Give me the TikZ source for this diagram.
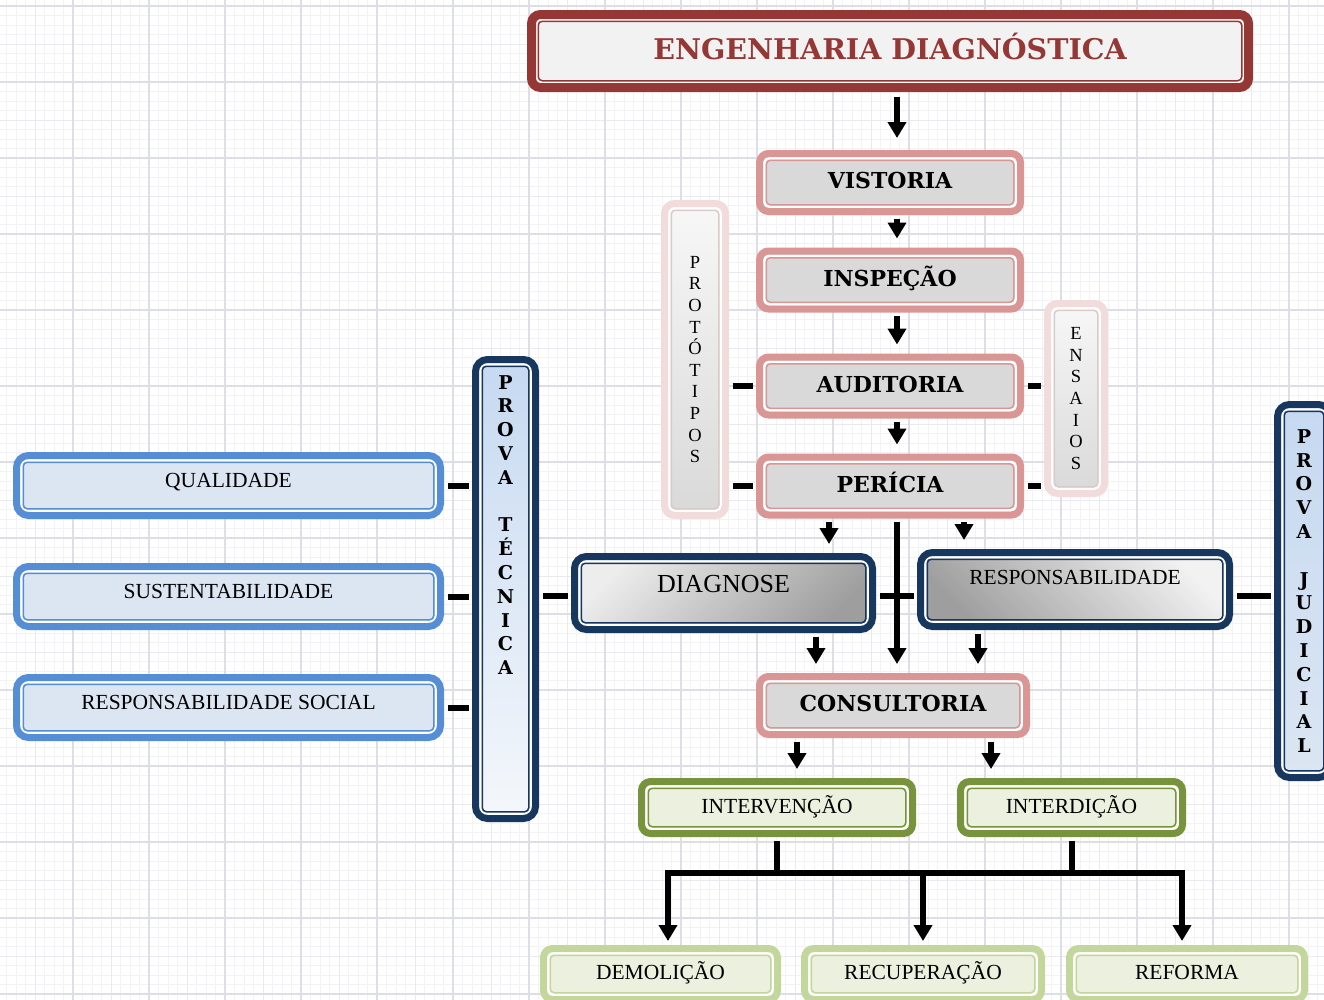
\documentclass[tikz,border=0pt]{standalone}
\usepackage{fontspec}
\setmainfont{Liberation Serif}
\newfontfamily\negrito{DejaVu Serif}
\usetikzlibrary{arrows.meta}

\definecolor{vermelho}{HTML}{953735}
\definecolor{rosa}{HTML}{D99694}
\definecolor{rosaclaro}{HTML}{F2DCDB}
\definecolor{linhacinza}{HTML}{DCCACA}
\definecolor{cinza}{HTML}{D9D9D9}
\definecolor{cinzaclaro}{HTML}{F2F2F2}
\definecolor{azul}{HTML}{558ED5}
\definecolor{azulfill}{HTML}{DCE6F2}
\definecolor{azulcol}{HTML}{C6D9F1}
\definecolor{marinho}{HTML}{17375E}
\definecolor{verde}{HTML}{77933C}
\definecolor{verdeclaro}{HTML}{C3D69B}
\definecolor{verdefill}{HTML}{EBF1DE}
\definecolor{gridfino}{HTML}{F3F3F7}
\definecolor{gridmedio}{HTML}{E9E9EF}
\definecolor{gridgrosso}{HTML}{DEDEE7}

\tikzset{
  moldura/.style 2 args={rectangle, rounded corners=9pt, line width=7pt, inner sep=0pt, align=center, draw=#1,
    path picture={
      \draw[white, line width=2.5pt, rounded corners=5pt]
        ([shift={(4.75pt,-4.75pt)}]path picture bounding box.north west) rectangle
        ([shift={(-4.75pt,4.75pt)}]path picture bounding box.south east);
      \draw[#2, line width=1.5pt, rounded corners=4pt]
        ([shift={(6.75pt,-6.75pt)}]path picture bounding box.north west) rectangle
        ([shift={(-6.75pt,6.75pt)}]path picture bounding box.south east);
    }},
  texto/.style={font=\fontsize{21.5}{24}\selectfont, text height=14pt, text depth=10pt},
  negr/.style={font=\negrito\bfseries\fontsize{22}{25}\selectfont, text height=16pt, text depth=4pt},
  letras/.style={inner sep=0pt, align=center, font=\negrito\bfseries\fontsize{19}{23.8}\selectfont},
  titulo/.style={moldura={vermelho}{vermelho}, line width=9pt, fill=cinzaclaro, text=vermelho,
    font=\negrito\bfseries\fontsize{28.5}{32}\selectfont, text height=21pt, text depth=4pt,
    minimum width=717pt, minimum height=73pt},
  caixarosa/.style={moldura={rosa}{rosa}, fill=cinza, negr, minimum width=261pt, minimum height=58pt},
  colunarosa/.style={moldura={rosaclaro}{linhacinza}, rounded corners=10pt, top color=white!97!black,
    bottom color=cinza, font=\fontsize{18.5}{21.6}\selectfont},
  colunaazul/.style={moldura={marinho}{marinho}, rounded corners=12pt, top color=azulcol,
    bottom color=azulfill!30!white},
  caixaazul/.style={moldura={azul}{azul}, rounded corners=12pt, fill=azulfill, texto,
    minimum width=424pt, minimum height=60pt},
  caixamarinho/.style={moldura={marinho}{marinho}, rounded corners=12pt, texto},
  caixaverde/.style={moldura={verde}{verde}, fill=verdefill, texto, text depth=3pt, minimum height=52pt},
  caixaverdeclara/.style={moldura={verdeclaro}{verdeclaro}, fill=verdefill, texto, text depth=4pt,
    minimum width=235pt, minimum height=51pt},
  seta/.style={draw=black, line width=6pt, -{Triangle[width=18pt,length=16pt]}, shorten <=3.5pt, shorten >=9pt},
  liga/.style={draw=black, line width=6pt, shorten <=3.5pt, shorten >=3.5pt},
}

\begin{document}
\begin{tikzpicture}[x=1pt, y=-1pt]
  \useasboundingbox (0,0) rectangle (1324,999);
  \clip (0,0) rectangle (1324,999);
  \fill[white] (0,0) rectangle (1324,999);

  % papel milimetrado
  \begin{scope}[shift={(-3pt,-6pt)}]
    \draw[gridfino, line width=0.6pt, step=9.5pt] (-20pt,-1020pt) grid (1340pt,20pt);
    \draw[gridmedio, line width=0.9pt, step=38pt] (-20pt,-1020pt) grid (1340pt,20pt);
    \draw[gridgrosso, line width=1.3pt, step=76pt] (-20pt,-1020pt) grid (1340pt,20pt);
  \end{scope}

  \node[titulo] (eng) at (890,51) {ENGENHARIA DIAGNÓSTICA};

  \begin{scope}[every node/.style={caixarosa}]
    \node (vist) at (890,182.5) {VISTORIA};
    \node (insp) at (890,280) {INSPEÇÃO};
    \node (audi) at (890,386) {AUDITORIA};
    \node (peri) at (890,486) {PERÍCIA};
    \node[minimum width=267pt] (cons) at (893,705.5) {CONSULTORIA};
  \end{scope}

  \node[colunarosa, minimum width=61pt, minimum height=312pt] (prot) at (695,359.5) {P\\R\\O\\T\\Ó\\T\\I\\P\\O\\S};
  \node[colunarosa, minimum width=57pt, minimum height=190pt] (ensa) at (1076,398.5) {E\\N\\S\\A\\I\\O\\S};

  \node[colunaazul, minimum width=60pt, minimum height=459pt] (ptec) at (505.5,589) {};
  \node[letras, anchor=north] (ptectxt) at ([yshift=-19pt]ptec.north) {P\\R\\O\\V\\A\\~\\T\\É\\C\\N\\I\\C\\A};
  \node[colunaazul, bottom color=azulfill, minimum width=53pt, minimum height=373pt] (pjud) at (1304,591) {};
  \node[letras] (pjudtxt) at (pjud.center) {P\\R\\O\\V\\A\\~\\J\\U\\D\\I\\C\\I\\A\\L};

  \begin{scope}[every node/.style={caixaazul}]
    \node (qual) at (228.5,485.5) {QUALIDADE};
    \node (sust) at (228.5,596.5) {SUSTENTABILIDADE};
    \node (rsoc) at (228.5,707.5) {RESPONSABILIDADE SOCIAL};
  \end{scope}

  \node[caixamarinho, top color=white!93!black, bottom color=black!38, shading angle=45,
    minimum width=298pt, minimum height=73pt, font=\fontsize{26}{30}\selectfont,
    text height=17pt, text depth=18pt] (diag) at (723.5,593) {DIAGNOSE};
  \node[caixamarinho, top color=white!95!black, bottom color=black!38, shading angle=-45,
    minimum width=309pt, minimum height=74pt, text depth=25pt] (resp) at (1075,589.5) {RESPONSABILIDADE};

  \node[caixaverde, minimum width=271pt] (inte) at (777,807.5) {INTERVENÇÃO};
  \node[caixaverde, minimum width=222pt] (intd) at (1071.5,807.5) {INTERDIÇÃO};

  \begin{scope}[every node/.style={caixaverdeclara}]
    \node[minimum width=234pt] (demo) at (660.5,974) {DEMOLIÇÃO};
    \node[minimum width=237pt] (recu) at (923,974) {RECUPERAÇÃO};
    \node (refo) at (1187,974) {REFORMA};
  \end{scope}

  \coordinate (eixo) at (0,596);
  \coordinate (barraE) at (668,873);
  \coordinate (barraD) at (1182,873);

  % setas
  \begin{scope}[every edge/.style={seta}]
    \draw ([xshift=7]eng.south) edge[shorten <=4.5pt, shorten >=12pt] ([xshift=7]vist.north);
    \draw ([xshift=7]vist.south) edge ([xshift=7]insp.north);
    \draw ([xshift=7]insp.south) edge ([xshift=7]audi.north);
    \draw ([xshift=7]audi.south) edge ([xshift=7]peri.north);
    \draw ([xshift=-61]peri.south) edge ([xshift=-61]peri.south |- diag.north);
    \draw ([xshift=74]peri.south) edge ([xshift=74]peri.south |- resp.north);
    \draw ([xshift=7]peri.south) edge ([xshift=7]peri.south |- cons.north);
    \draw ([xshift=92.5]diag.south) edge ([xshift=92.5]diag.south |- cons.north);
    \draw ([xshift=-97]resp.south) edge ([xshift=-97]resp.south |- cons.north);
    \draw ([xshift=-96]cons.south) edge ([xshift=-96]cons.south |- inte.north);
    \draw ([xshift=98]cons.south) edge ([xshift=98]cons.south |- intd.north);
    \draw (barraE) edge[shorten <=0pt, shorten >=4pt] (barraE |- demo.north);
    \draw (recu.north |- barraE) edge[shorten <=0pt, shorten >=4pt] (recu.north);
    \draw (barraD) edge[shorten <=0pt, shorten >=4pt] (barraD |- refo.north);
  \end{scope}

  % ligacoes
  \begin{scope}[every edge/.style={liga}]
    \draw (prot.east |- audi.west) edge (audi.west);
    \draw (prot.east |- peri.west) edge (peri.west);
    \draw (audi.east) edge (audi.east -| ensa.west);
    \draw (peri.east) edge (peri.east -| ensa.west);
    \draw (qual.east) edge (qual.east -| ptec.west);
    \draw (sust.east) edge (sust.east -| ptec.west);
    \draw (rsoc.east) edge (rsoc.east -| ptec.west);
    \draw (ptec.east |- eixo) edge (diag.west |- eixo);
    \draw (diag.east |- eixo) edge (resp.west |- eixo);
    \draw (resp.east |- eixo) edge (pjud.west |- eixo);
    \draw (inte.south) edge[shorten >=0pt] (inte.south |- barraE);
    \draw (intd.south) edge[shorten >=0pt] (intd.south |- barraE);
    \draw (barraE) edge[shorten <=0pt, shorten >=0pt, line cap=rect] (barraD);
  \end{scope}
\end{tikzpicture}
\end{document}
